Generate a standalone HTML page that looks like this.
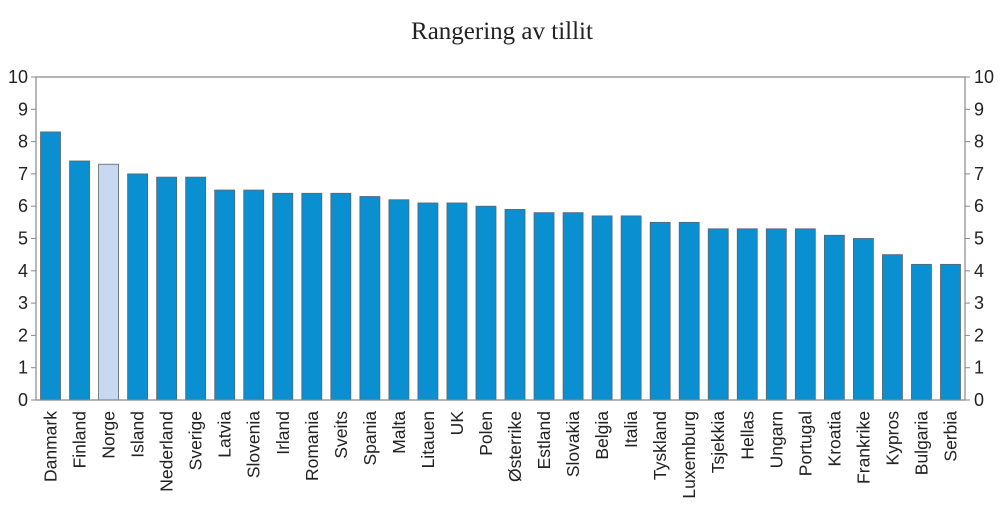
<!DOCTYPE html>
<html><head><meta charset="utf-8"><style>
body{margin:0;background:#fff;}
svg text{font-family:"Liberation Sans",sans-serif;fill:#222;}
</style></head><body>
<svg id="c" width="1000" height="519" xmlns="http://www.w3.org/2000/svg">
<text x="502" y="39" text-anchor="middle" style="font-family:'Liberation Serif',serif;font-size:25px">Rangering av tillit</text>
</svg>
<script>
const categories=["Danmark","Finland","Norge","Island","Nederland","Sverige","Latvia","Slovenia","Irland","Romania","Sveits","Spania","Malta","Litauen","UK","Polen","Østerrike","Estland","Slovakia","Belgia","Italia","Tyskland","Luxemburg","Tsjekkia","Hellas","Ungarn","Portugal","Kroatia","Frankrike","Kypros","Bulgaria","Serbia"];
const values=[8.3,7.4,7.3,7.0,6.9,6.9,6.5,6.5,6.4,6.4,6.4,6.3,6.2,6.1,6.1,6.0,5.9,5.8,5.8,5.7,5.7,5.5,5.5,5.3,5.3,5.3,5.3,5.1,5.0,4.5,4.2,4.2];
const highlight=["Norge"];
const yTicks=[0,1,2,3,4,5,6,7,8,9,10];
const svg=document.getElementById('c');
const NS="http://www.w3.org/2000/svg";
const L=36,R=965,T=77,B=400;
const y=v=>B-(v/10)*(B-T);
const step=(R-L)/categories.length;
const x=i=>L+step*i+step/2;
function mk(t,a){const e=document.createElementNS(NS,t);for(const k in a)e.setAttribute(k,a[k]);svg.appendChild(e);return e;}
categories.forEach((c,i)=>{
  const b=mk('rect',{x:x(i)-10,y:y(values[i]),width:20,height:B-y(values[i]),fill:highlight.includes(c)?'#c6d9f1':'#0a8fd0',stroke:'#5a6470','stroke-width':0.8});
  
  
  const t=mk('text',{x:0,y:0,'font-size':'17.5','text-anchor':'end',transform:`translate(${x(i)+6},411) rotate(-90)`});
  t.textContent=c;
  
  
});
const ax=mk('path',{d:`M${L},${B}V${T}H${R}V${B}H${L}`,fill:'none',stroke:'#888','stroke-width':1.2});


yTicks.forEach(v=>{
  mk('line',{x1:L-5,x2:L,y1:y(v),y2:y(v),stroke:'#888'});
  mk('line',{x1:R,x2:R+5,y1:y(v),y2:y(v),stroke:'#888'});
  const a=mk('text',{x:L-8,y:y(v)+6,'font-size':'18','text-anchor':'end'});a.textContent=v;
  
  
  const b=mk('text',{x:R+9,y:y(v)+6,'font-size':'18'});b.textContent=v;
  
  
});
</script>
</body></html>
